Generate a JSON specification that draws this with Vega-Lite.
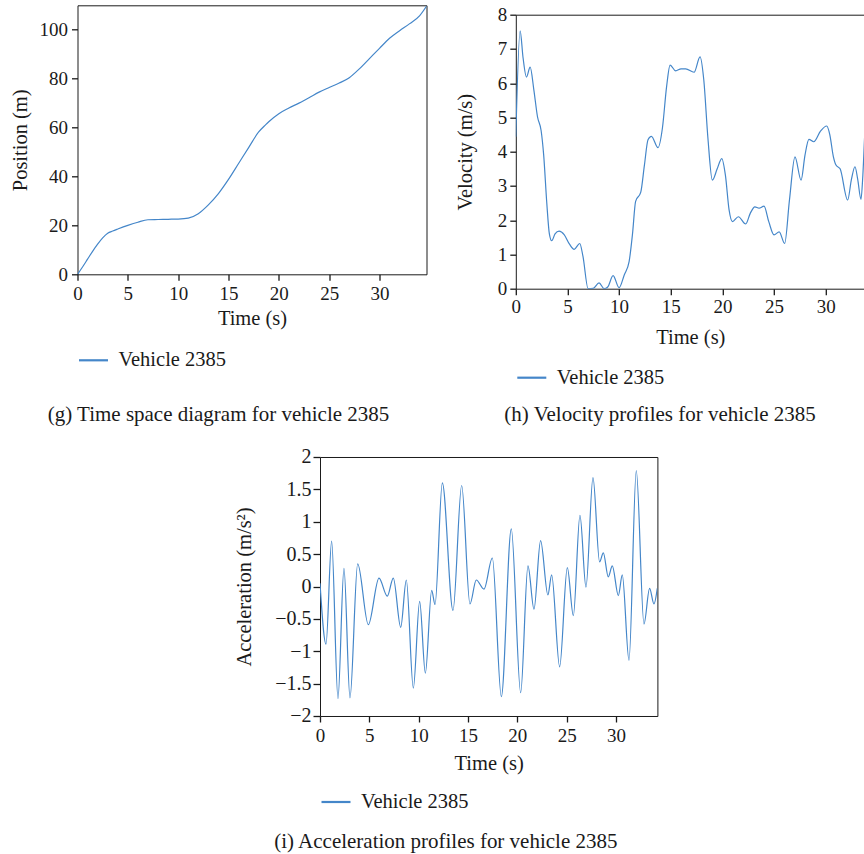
{
  "$schema": "https://vega.github.io/schema/vega-lite/v6.json",
  "padding": {"left": 9.5, "top": 2.3, "right": 0, "bottom": 0},
  "spacing": 19.7,
  "resolve": {"scale": {"color": "independent"}, "legend": {"color": "independent"}},
  "datasets": {
    "pos": [
      {"t": 0, "p": 0}, {"t": 0.5, "p": 3.0}, {"t": 1, "p": 6.2}, {"t": 1.5, "p": 9.4}, {"t": 2, "p": 12.3},
      {"t": 2.5, "p": 14.9}, {"t": 3, "p": 16.8}, {"t": 3.5, "p": 17.7}, {"t": 4, "p": 18.5}, {"t": 5, "p": 20.0},
      {"t": 6, "p": 21.3}, {"t": 7, "p": 22.3}, {"t": 8, "p": 22.4}, {"t": 9, "p": 22.5}, {"t": 10, "p": 22.6},
      {"t": 11, "p": 23.0}, {"t": 12, "p": 24.8}, {"t": 13, "p": 28.4}, {"t": 14, "p": 33.0}, {"t": 15, "p": 38.8},
      {"t": 16, "p": 45.3}, {"t": 17, "p": 51.8}, {"t": 18, "p": 58.2}, {"t": 18.7, "p": 61.2}, {"t": 19, "p": 62.4},
      {"t": 20, "p": 65.7}, {"t": 21, "p": 68.0}, {"t": 22, "p": 70.0}, {"t": 23, "p": 72.2}, {"t": 24, "p": 74.5},
      {"t": 25, "p": 76.4}, {"t": 26, "p": 78.2}, {"t": 27, "p": 80.4}, {"t": 28, "p": 84.0}, {"t": 29, "p": 88.2},
      {"t": 30, "p": 92.4}, {"t": 31, "p": 96.5}, {"t": 32, "p": 99.6}, {"t": 33, "p": 102.5}, {"t": 34, "p": 105.8},
      {"t": 34.7, "p": 109.8}
    ],
    "vel": [
      {"t": 0, "v": 4.44}, {"t": 0.42, "v": 7.53}, {"t": 0.7, "v": 6.75}, {"t": 1.03, "v": 6.18}, {"t": 1.39, "v": 6.47},
      {"t": 1.75, "v": 5.8}, {"t": 2.1, "v": 5.02}, {"t": 2.45, "v": 4.62}, {"t": 2.7, "v": 3.9}, {"t": 3.0, "v": 2.5},
      {"t": 3.25, "v": 1.6}, {"t": 3.48, "v": 1.40}, {"t": 3.8, "v": 1.6}, {"t": 4.19, "v": 1.68}, {"t": 4.68, "v": 1.58},
      {"t": 5.2, "v": 1.3}, {"t": 5.65, "v": 1.15}, {"t": 6.19, "v": 1.32}, {"t": 6.5, "v": 0.95}, {"t": 7.0, "v": 0.0},
      {"t": 7.5, "v": 0.01}, {"t": 8.06, "v": 0.17}, {"t": 8.55, "v": 0.0}, {"t": 8.9, "v": 0.05}, {"t": 9.42, "v": 0.38},
      {"t": 10.0, "v": 0.03}, {"t": 10.5, "v": 0.4}, {"t": 10.97, "v": 0.79}, {"t": 11.3, "v": 1.6}, {"t": 11.6, "v": 2.55},
      {"t": 12.1, "v": 2.82}, {"t": 12.45, "v": 3.6}, {"t": 12.8, "v": 4.35}, {"t": 13.13, "v": 4.45}, {"t": 13.77, "v": 4.12},
      {"t": 14.2, "v": 4.7}, {"t": 14.6, "v": 5.9}, {"t": 14.94, "v": 6.53}, {"t": 15.48, "v": 6.36}, {"t": 16.0, "v": 6.42},
      {"t": 16.45, "v": 6.42}, {"t": 17.26, "v": 6.32}, {"t": 17.84, "v": 6.77}, {"t": 18.2, "v": 6.1}, {"t": 18.6, "v": 4.4},
      {"t": 19.03, "v": 3.17}, {"t": 19.5, "v": 3.5}, {"t": 19.94, "v": 3.8}, {"t": 20.3, "v": 3.3}, {"t": 20.65, "v": 2.3},
      {"t": 20.97, "v": 1.96}, {"t": 21.55, "v": 2.1}, {"t": 22.26, "v": 1.89}, {"t": 22.7, "v": 2.2}, {"t": 23.15, "v": 2.39},
      {"t": 23.55, "v": 2.35}, {"t": 24.03, "v": 2.41}, {"t": 24.5, "v": 1.95}, {"t": 25.0, "v": 1.57}, {"t": 25.5, "v": 1.66},
      {"t": 26.03, "v": 1.32}, {"t": 26.5, "v": 2.6}, {"t": 27.03, "v": 3.85}, {"t": 27.62, "v": 3.17}, {"t": 28.0, "v": 3.9},
      {"t": 28.38, "v": 4.36}, {"t": 28.85, "v": 4.29}, {"t": 29.5, "v": 4.6}, {"t": 30.1, "v": 4.75}, {"t": 30.4, "v": 4.5},
      {"t": 30.75, "v": 3.85}, {"t": 31.0, "v": 3.61}, {"t": 31.4, "v": 3.5}, {"t": 32.13, "v": 2.59}, {"t": 32.5, "v": 3.2},
      {"t": 32.84, "v": 3.56}, {"t": 33.1, "v": 3.2}, {"t": 33.42, "v": 2.61}, {"t": 33.6, "v": 3.3}, {"t": 33.8, "v": 4.6},
      {"t": 34.2, "v": 5.8}
    ],
    "acc": [
      {"t": 0, "a": 0.05}, {"t": 0.61, "a": -0.89}, {"t": 1.18, "a": 0.70}, {"t": 1.82, "a": -1.73}, {"t": 2.43, "a": 0.28},
      {"t": 3.04, "a": -1.72}, {"t": 3.82, "a": 0.35}, {"t": 4.9, "a": -0.59}, {"t": 5.98, "a": 0.13}, {"t": 6.82, "a": -0.15},
      {"t": 7.43, "a": 0.13}, {"t": 8.18, "a": -0.63}, {"t": 8.75, "a": 0.10}, {"t": 9.46, "a": -1.57}, {"t": 10.1, "a": -0.23},
      {"t": 10.68, "a": -1.34}, {"t": 11.32, "a": -0.06}, {"t": 11.66, "a": -0.28}, {"t": 12.4, "a": 1.60}, {"t": 13.48, "a": -0.37},
      {"t": 14.36, "a": 1.56}, {"t": 15.2, "a": -0.27}, {"t": 15.84, "a": 0.10}, {"t": 16.62, "a": -0.04}, {"t": 17.47, "a": 0.44},
      {"t": 18.38, "a": -1.70}, {"t": 19.39, "a": 0.89}, {"t": 20.34, "a": -1.64}, {"t": 21.08, "a": 0.32}, {"t": 21.69, "a": -0.35},
      {"t": 22.36, "a": 0.71}, {"t": 23.1, "a": -0.13}, {"t": 23.48, "a": 0.18}, {"t": 24.29, "a": -1.24}, {"t": 25.07, "a": 0.29},
      {"t": 25.68, "a": -0.45}, {"t": 26.35, "a": 1.10}, {"t": 26.96, "a": -0.01}, {"t": 27.67, "a": 1.68}, {"t": 28.34, "a": 0.38},
      {"t": 28.72, "a": 0.52}, {"t": 29.22, "a": 0.15}, {"t": 29.63, "a": 0.32}, {"t": 30.24, "a": -0.14}, {"t": 30.64, "a": 0.18},
      {"t": 31.32, "a": -1.14}, {"t": 32.06, "a": 1.79}, {"t": 32.84, "a": -0.58}, {"t": 33.41, "a": -0.03}, {"t": 33.85, "a": -0.27},
      {"t": 34.19, "a": -0.03}
    ]
  },
  "vconcat": [
    {
      "hconcat": [
        {
          "width": 349,
          "height": 269,
          "data": {"name": "pos"},
          "mark": {"type": "line", "clip": true},
          "encoding": {
            "x": {"field": "t", "type": "quantitative", "scale": {"domain": [0, 34.67], "nice": false, "zero": false},
                  "axis": {"title": "Time (s)", "values": [0, 5, 10, 15, 20, 25, 30], "labelPadding": 4, "titlePadding": 5}},
            "y": {"field": "p", "type": "quantitative", "scale": {"domain": [0, 110], "nice": false},
                  "axis": {"title": "Position (m)", "values": [0, 20, 40, 60, 80, 100], "labelPadding": 4, "titlePadding": 8.5}},
            "color": {"datum": "Vehicle 2385", "type": "nominal", "scale": {"range": ["#4486c9"]},
                      "legend": {"title": null, "offset": 15, "symbolStrokeWidth": 2.2}},
            "strokeWidth": {"value": 1.2}
          },
          "title": {"text": "(g) Time space diagram for vehicle 2385", "offset": 33}
        },
        {
          "vconcat": [
            {
              "width": 1,
              "height": 1,
              "data": {"values": [{}]},
              "mark": {"type": "point", "opacity": 0},
              "view": {"stroke": null}
            },
            {
              "width": 349,
              "height": 274,
              "data": {"name": "vel"},
              "view": {"stroke": null},
              "mark": {"type": "line", "clip": true},
              "encoding": {
                "x": {"field": "t", "type": "quantitative", "scale": {"domain": [0, 33.79], "nice": false, "zero": false},
                      "axis": {"title": "Time (s)", "values": [0, 5, 10, 15, 20, 25, 30], "domain": true, "labelPadding": 3.2, "titlePadding": 11}},
                "y": {"field": "v", "type": "quantitative", "scale": {"domain": [0, 8], "nice": false},
                      "axis": {"title": "Velocity (m/s)", "values": [0, 1, 2, 3, 4, 5, 6, 7, 8], "domain": true, "grid": true,
                               "gridColor": "#1a1a1a", "gridWidth": 1,
                               "gridOpacity": {"condition": {"test": "datum.value === 8", "value": 1}, "value": 0},
                               "labelPadding": 3, "titlePadding": 22}},
                "color": {"datum": "Vehicle 2385", "type": "nominal", "scale": {"range": ["#4486c9"]},
                          "legend": {"title": null, "offset": 12.5, "symbolStrokeWidth": 2.2}},
                "strokeWidth": {"value": 1.2}
              },
              "title": {"text": "(h) Velocity profiles for vehicle 2385", "offset": 15}
            }
          ],
          "spacing": 8.4,
          "bounds": "flush",
          "resolve": {"scale": {"color": "independent"}, "legend": {"color": "independent"}}
        }
      ],
      "spacing": 27.3,
      "resolve": {"scale": {"color": "independent"}, "legend": {"color": "independent"}}
    },
    {
      "hconcat": [
        {
          "width": 1,
          "height": 1,
          "data": {"values": [{}]},
          "mark": {"type": "point", "opacity": 0},
          "view": {"stroke": null}
        },
        {
          "width": 337.4,
          "height": 259,
          "data": {"name": "acc"},
          "mark": {"type": "line", "clip": true},
          "encoding": {
            "x": {"field": "t", "type": "quantitative", "scale": {"domain": [0, 34.2], "nice": false, "zero": false},
                  "axis": {"title": "Time (s)", "values": [0, 5, 10, 15, 20, 25, 30], "labelPadding": 4.5, "titlePadding": 8}},
            "y": {"field": "a", "type": "quantitative", "scale": {"domain": [-2, 2], "nice": false, "zero": false},
                  "axis": {"title": "Acceleration (m/s²)", "values": [-2, -1.5, -1, -0.5, 0, 0.5, 1, 1.5, 2], "format": ".1~f",
                           "labelPadding": 2, "tickSize": 7, "labelFontSize": 20, "titlePadding": 20.5}},
            "color": {"datum": "Vehicle 2385", "type": "nominal", "scale": {"range": ["#4486c9"]},
                      "legend": {"title": null, "offset": 11.5, "symbolStrokeWidth": 2.2}},
            "strokeWidth": {"value": 1.2}
          },
          "title": {"text": "(i) Acceleration profiles for vehicle 2385", "offset": 18}
        }
      ],
      "spacing": 241.5,
      "bounds": "flush",
      "resolve": {"scale": {"color": "independent"}, "legend": {"color": "independent"}}
    }
  ],
  "config": {
    "font": "Liberation Serif",
    "view": {"stroke": "#1a1a1a", "strokeWidth": 1},
    "line": {"interpolate": "monotone"},
    "axis": {
      "labelFont": "Liberation Serif", "labelFontSize": 19, "labelColor": "#1a1a1a",
      "titleFont": "Liberation Serif", "titleFontSize": 20.5, "titleFontWeight": "normal", "titleColor": "#1a1a1a",
      "tickColor": "#1a1a1a", "tickSize": 6, "tickWidth": 1.3,
      "domain": false, "domainColor": "#1a1a1a", "domainWidth": 1, "grid": false, "labelFlush": false
    },
    "legend": {
      "orient": "bottom", "labelFont": "Liberation Serif", "labelFontSize": 20.5, "labelColor": "#1a1a1a",
      "symbolType": "stroke", "symbolSize": 841, "symbolStrokeWidth": 2.2, "labelOffset": 9, "padding": 0
    },
    "title": {
      "font": "Liberation Serif", "fontSize": 21, "fontWeight": "normal", "color": "#1a1a1a",
      "orient": "bottom", "anchor": "middle", "frame": "bounds"
    }
  }
}
